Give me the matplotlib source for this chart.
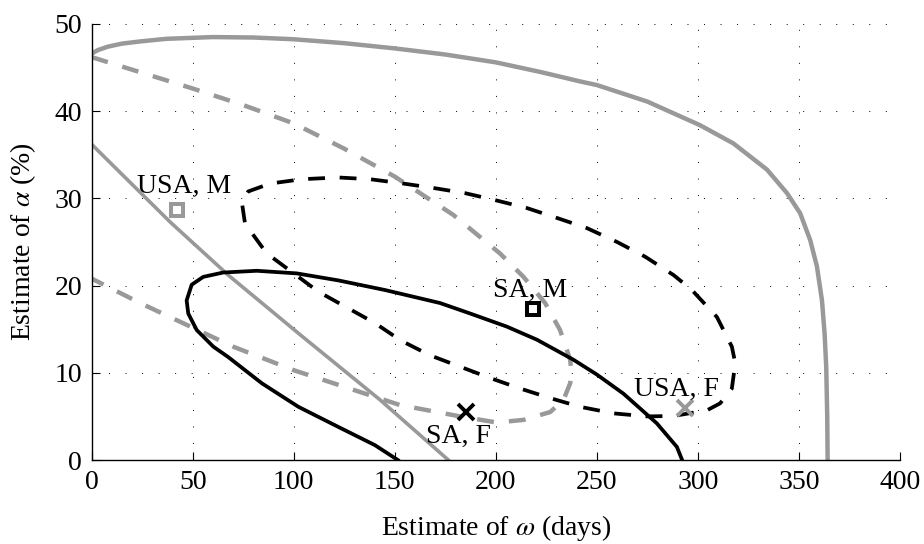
import matplotlib
matplotlib.use('Agg')
import matplotlib.pyplot as plt

# USA, F region (grey solid): outer arc and inner line
usa_f_arc_w = [0, 3, 8, 15, 24, 37, 60, 80, 100, 125, 150, 175, 200, 222, 242, 250,
               275, 301, 317.6, 334.2, 344.1, 350.6, 355.6, 358.9, 361.4, 362.7, 363.5, 364, 364.2]
usa_f_arc_a = [46.6, 47.0, 47.4, 47.75, 48.0, 48.3, 48.5, 48.45, 48.25, 47.8, 47.2, 46.5, 45.6, 44.5, 43.4, 43.0,
               41.1, 38.4, 36.3, 33.3, 30.6, 28.3, 25.2, 22.2, 18.3, 14.5, 10.7, 5.0, 0]
usa_f_line_w = [0, 38.8, 67.6, 103, 142.7, 176.5]
usa_f_line_a = [36.2, 27.3, 21.2, 14.4, 6.9, 0]

# USA, M region (grey dashed)
usa_m_w = [0, 25, 50, 75, 100, 125, 150, 179, 202, 213.7, 224.4, 231.8, 236.8, 237.4, 236.8,
           233.5, 226.9, 213.7, 200.5, 182.3, 152.6, 132.8, 100, 70, 47, 24, 0]
usa_m_a = [46.2, 44.4, 42.6, 40.7, 38.6, 35.7, 32.5, 28.1, 23.7, 21.0, 18.0, 14.9, 11.5, 10.1, 8.8,
           6.9, 5.5, 4.6, 4.3, 5.0, 6.3, 7.8, 10.3, 13.0, 15.5, 18.0, 20.8]

# SA, M region (black dashed, closed)
sa_m_w = [96.5, 86.6, 75.9, 74.3, 77.5, 88.3, 104, 122, 137.8, 154.3, 169, 184.8, 199.7, 215.3,
          231, 245, 260, 274, 288, 297, 309.4, 316.8, 318.5, 316.8, 311, 304.5, 288, 274.8,
          258.2, 241.7, 226.9, 212, 197.2, 182.3, 167.5, 153, 140.2, 125.4, 112.2, 96.5]
sa_m_a = [22.0, 23.7, 27.1, 29.6, 30.8, 31.7, 32.2, 32.4, 32.2, 31.7, 31.2, 30.6, 29.8, 28.9,
          27.7, 26.6, 25.0, 23.3, 21.2, 19.5, 16.4, 13.0, 11.1, 8.2, 6.5, 5.7, 5.05, 5.0,
          5.35, 6.1, 7.1, 8.2, 9.4, 10.7, 12.0, 13.7, 15.7, 17.6, 19.3, 22.0]

# SA, F region (black solid)
sa_f_w = [151.5, 140.2, 122, 102.3, 84.2, 67.6, 60.2, 52, 47.8, 47, 49.5, 55.2, 65.1, 81.7,
          101.5, 122, 145, 172.4, 187.3, 205.4, 220.3, 238.4, 250, 263.2, 279.7, 289.6, 292.2]
sa_f_a = [0, 1.7, 3.8, 6.1, 8.8, 11.8, 13.0, 14.9, 16.8, 18.3, 20.1, 21.0, 21.5, 21.7,
          21.4, 20.6, 19.5, 18.0, 16.8, 15.3, 13.8, 11.5, 9.8, 7.6, 4.2, 1.5, 0]

# point estimates
est_names = ['USA, M', 'USA, F', 'SA, M', 'SA, F']
est_w = [42, 293.7, 218.6, 185.3]
est_a = [28.7, 6.0, 17.3, 5.5]
label_w = [22.4, 268.5, 198.8, 165.5]
label_a = [30.6, 7.3, 18.7, 2.0]

plt.rcParams['font.family'] = ['Liberation Serif', 'DejaVu Serif']
plt.rcParams['mathtext.fontset'] = 'stix'
plt.rcParams['font.size'] = 20

grey = (0.6, 0.6, 0.6)

fig = plt.figure(figsize=(9.24, 5.44), dpi=100)
ax = fig.add_axes([0.0992, 0.1544, 0.8748, 0.8015])

ax.plot(usa_f_arc_w, usa_f_arc_a, color=grey, lw=3.2)
ax.plot(usa_f_line_w, usa_f_line_a, color=grey, lw=2.6)
ax.plot(usa_m_w, usa_m_a, color=grey, lw=3.2, dashes=(3.8, 3.4), dash_capstyle='butt')
ax.plot(sa_f_w, sa_f_a, color='k', lw=2.7)
ax.plot(sa_m_w, sa_m_a, color='k', lw=2.7, dashes=(4.5, 3.9), dash_capstyle='butt')

ax.plot(est_w[0], est_a[0], 's', ms=8, mfc='white', mec=grey, mew=2.9)
ax.plot(est_w[1], est_a[1], 'x', ms=11, mec=grey, mew=2.8)
ax.plot(est_w[2], est_a[2], 's', ms=8, mfc='white', mec='k', mew=2.9)
ax.plot(est_w[3], est_a[3], 'x', ms=11, mec='k', mew=2.8)

for name, x, y in zip(est_names, label_w, label_a):
    ax.text(x, y, name, ha='left', va='baseline', fontsize=20)

ax.set_xlim(0, 400)
ax.set_ylim(0, 50)
ax.set_xticks(range(0, 401, 50))
ax.set_yticks(range(0, 51, 10))
ax.grid(True, color='k', linestyle=(0, (1, 16)), linewidth=0.7)
ax.set_axisbelow(True)
ax.spines['top'].set_visible(False)
ax.spines['right'].set_visible(False)
ax.spines['left'].set_linewidth(1.0)
ax.spines['bottom'].set_linewidth(1.0)
ax.tick_params(direction='in', length=5.5, width=0.8, pad=7, labelsize=20)

ax.set_xlabel(r'Estimate of $\omega$ (days)', fontsize=20, labelpad=13)
ax.set_ylabel(r'Estimate of $\alpha$ (%)', fontsize=20, labelpad=12)

fig.savefig('out.png', dpi=100)
